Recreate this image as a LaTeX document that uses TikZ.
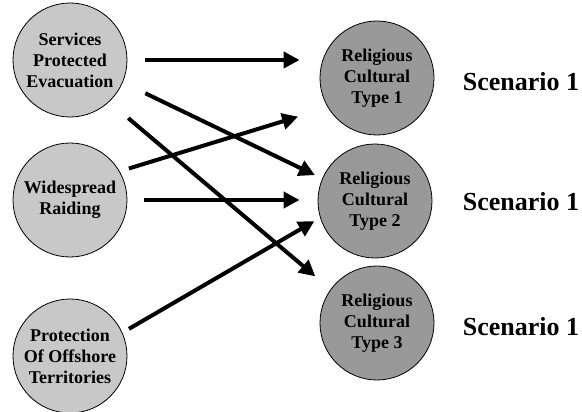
\documentclass[tikz,border=0pt]{standalone}
\usepackage{fontspec}
\setmainfont{Liberation Serif}
\usetikzlibrary{arrows.meta}
\definecolor{lightfill}{RGB}{200,200,200}
\definecolor{darkfill}{RGB}{153,153,153}
\begin{document}
\begin{tikzpicture}[x=1pt,y=-1pt,
  circ/.style={circle,draw=black,line width=0.8pt,minimum size=114pt,inner sep=0pt,
    align=center,font=\fontsize{18}{21}\selectfont\bfseries},
  src/.style={circ,fill=lightfill},
  dst/.style={circ,fill=darkfill},
  scen/.style={font=\fontsize{26}{30}\selectfont\bfseries,inner sep=0pt},
  arr/.style={line width=4pt,-{Triangle[length=16pt,width=16pt]}}]
\useasboundingbox (0,0) rectangle (582,412);
\node[src] (sp) at (70,60) {Services\\Protected\\Evacuation};
\node[src] (wr) at (70,200) {Widespread\\Raiding};
\node[src] (po) at (70,356) {Protection\\Of Offshore\\Territories};
\node[dst] (t1) at (377,78) {Religious\\Cultural\\Type 1};
\node[dst] (t2) at (375,201) {Religious\\Cultural\\Type 2};
\node[dst] (t3) at (377,323) {Religious\\Cultural\\Type 3};
\node[scen] (s1) at (521,82) {Scenario 1};
\node[scen] (s2) at (521,202) {Scenario 1};
\node[scen] (s3) at (521,327) {Scenario 1};
\draw[arr,shorten <=18pt,shorten >=20pt] (sp.east) -- (sp.east -| t1.west);
\draw[arr,shorten <=25pt,shorten >=8pt] (sp.-23.5) -- (t2.157);
\draw[arr,shorten <=25pt,shorten >=20pt] (sp.-47) -- (t3.144.8);
\draw[arr,shorten <=9.6pt,shorten >=31pt] (wr.30.5) -- (t1.211.3);
\draw[arr,shorten <=17pt,shorten >=18pt] (wr.east) -- (wr.east -| t2.west);
\draw[arr,shorten <=7.5pt,shorten >=6.6pt] (po.24.9) -- (t2.197.8);
\end{tikzpicture}
\end{document}
